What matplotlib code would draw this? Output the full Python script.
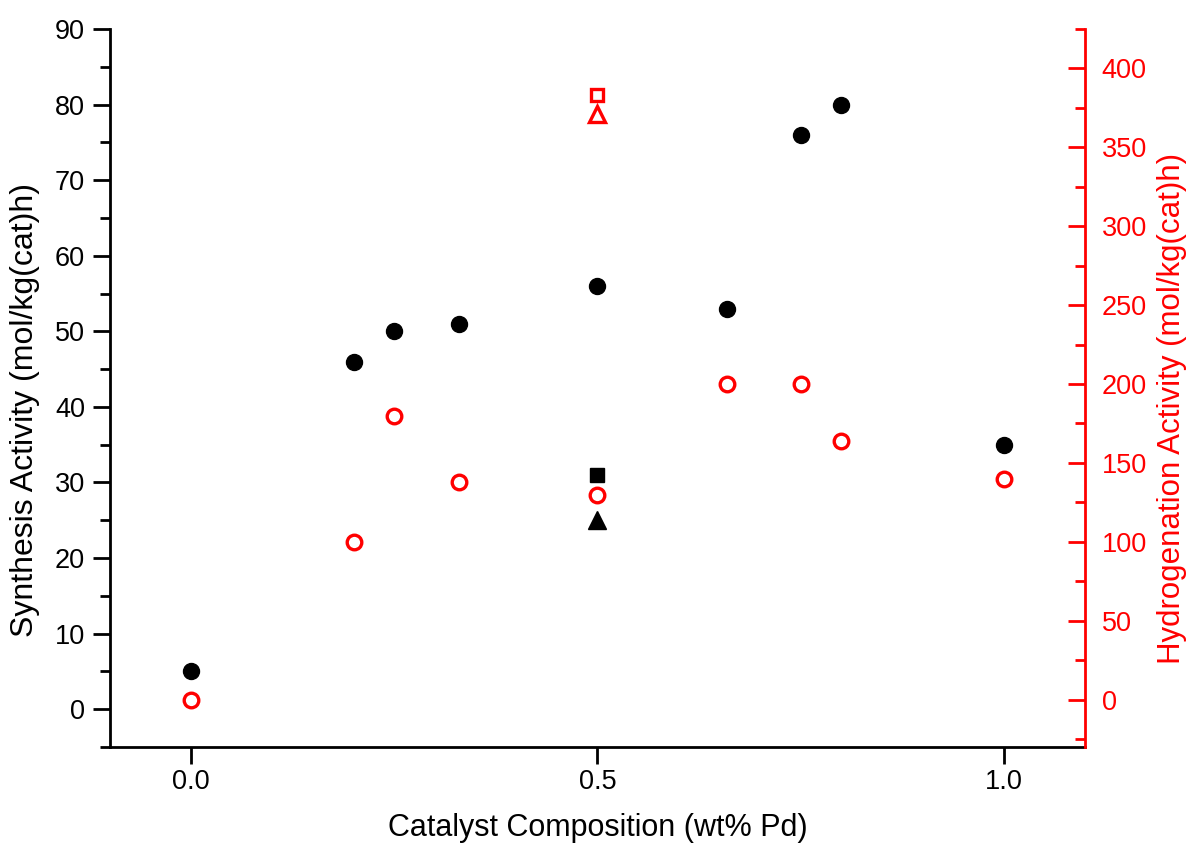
import matplotlib
matplotlib.use('Agg')
import matplotlib.pyplot as plt
from matplotlib.ticker import MultipleLocator, FormatStrFormatter

plt.rcParams['font.family'] = ['Liberation Sans', 'DejaVu Sans']

# Synthesis activity (left axis, black filled circles)
pd_wt = [0.0, 0.2, 0.25, 0.33, 0.5, 0.66, 0.75, 0.8, 1.0]
synth = [5, 46, 50, 51, 56, 53, 76, 80, 35]
# Hydrogenation activity (right axis, red open circles)
hydro = [0, 100, 180, 138, 130, 200, 200, 164, 140]

# extra samples at 0.5 wt% Pd
extra_x = [0.5]
synth_square = [31]
synth_triangle = [25]
hydro_square = [383]
hydro_triangle = [371]

fig = plt.figure(figsize=(11.92, 8.43), dpi=100)
ax1 = fig.add_axes([0.0923, 0.1139, 0.8179, 0.8517])

ax1.plot(pd_wt, synth, 'o', color='black', markersize=11.5)
ax1.plot(extra_x, synth_square, 's', color='black', markersize=10)
ax1.plot(extra_x, synth_triangle, '^', color='black', markersize=13)

ax1.set_xlim(-0.1, 1.1)
ax1.set_ylim(-5, 90)
ax1.xaxis.set_major_locator(MultipleLocator(0.5))
ax1.yaxis.set_major_locator(MultipleLocator(10))
ax1.yaxis.set_minor_locator(MultipleLocator(5))
ax1.xaxis.set_major_formatter(FormatStrFormatter('%.1f'))
ax1.tick_params(axis='both', which='major', labelsize=19.5, width=2, length=12, direction='out')
ax1.tick_params(axis='y', which='major', pad=6)
ax1.tick_params(axis='y', which='minor', width=2, length=7, direction='out')
ax1.spines['top'].set_visible(False)
ax1.spines['right'].set_visible(False)
ax1.spines['left'].set_linewidth(2)
ax1.spines['bottom'].set_linewidth(2)
ax1.set_xlabel('Catalyst Composition (wt% Pd)', fontsize=22)
ax1.xaxis.set_label_coords(0.5, -0.092)
ax1.set_ylabel('Synthesis Activity (mol/kg(cat)h)', fontsize=23)
ax1.yaxis.set_label_coords(-0.087, 0.47)
ax1.yaxis.label.set_va('center')

ax2 = ax1.twinx()
ax2.plot(pd_wt, hydro, 'o', color='red', markerfacecolor='none', markersize=10.5, markeredgewidth=2.4)
ax2.plot(extra_x, hydro_square, 's', color='red', markerfacecolor='none', markersize=9, markeredgewidth=2.4)
ax2.plot(extra_x, hydro_triangle, '^', color='red', markerfacecolor='none', markersize=12, markeredgewidth=2.4)
ax2.set_ylim(-30, 425)
ax2.yaxis.set_major_locator(MultipleLocator(50))
ax2.yaxis.set_minor_locator(MultipleLocator(25))
ax2.tick_params(axis='y', which='major', labelsize=19.5, width=2, length=12, direction='in', colors='red', pad=12)
ax2.tick_params(axis='y', which='minor', width=2, length=7, direction='in', colors='red')
for s in ['top', 'left', 'bottom']:
    ax2.spines[s].set_visible(False)
ax2.spines['right'].set_color('red')
ax2.spines['right'].set_linewidth(2)
ax2.set_ylabel('Hydrogenation Activity (mol/kg(cat)h)', fontsize=22.5, color='red')
ax2.yaxis.set_label_coords(1.089, 0.472)
ax2.yaxis.label.set_va('center')

fig.savefig('out.png', dpi=100)
